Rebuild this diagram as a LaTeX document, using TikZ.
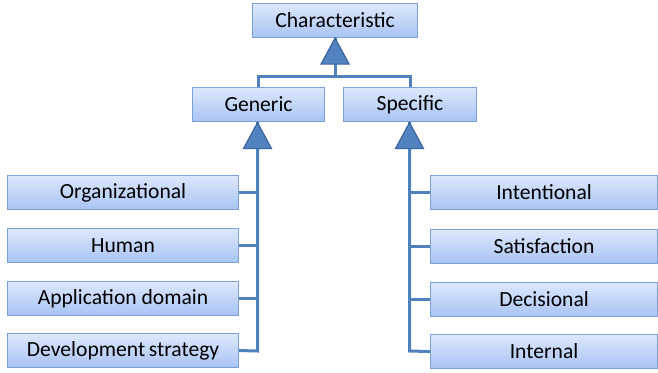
\documentclass[tikz,border=0pt]{standalone}
\usepackage{fontspec}
\setmainfont{Carlito}
\definecolor{boxtop}{HTML}{DDE8FC}
\definecolor{boxbot}{HTML}{A8C3F3}
\definecolor{boxline}{HTML}{7CA1D8}
\definecolor{conn}{HTML}{4F81BD}
\definecolor{trifill}{HTML}{5383BE}
\definecolor{triline}{HTML}{3A659C}
\begin{document}
\begin{tikzpicture}[x=1pt,y=-1pt,
  cbox/.style={draw=boxline, line width=1.1pt, top color=boxtop, bottom color=boxbot,
    minimum height=34pt, inner sep=0pt, font=\fontsize{21.6}{25}\selectfont, anchor=north west},
  conline/.style={draw=conn, line width=3pt},
  tri/.style={fill=trifill, draw=triline, line width=1.2pt, line join=miter}]
\useasboundingbox (0,0) rectangle (658,372);
% nodes
\node[cbox, minimum width=165pt] (ch) at (252,3) {Characteristic};
\node[cbox, minimum width=132pt] (ge) at (192,87) {Generic};
\node[cbox, minimum width=133pt] (sp) at (343,87) {Specific};
\node[cbox, minimum width=231pt] (o) at (7,175) {Organizational};
\node[cbox, minimum width=231pt] (h) at (7,228) {Human};
\node[cbox, minimum width=231pt] (a) at (7,281) {Application domain};
\node[cbox, minimum width=231pt] (d) at (7,333) {Development\,strategy};
\node[cbox, minimum width=227pt] (in) at (430,175) {Intentional};
\node[cbox, minimum width=227pt] (sa) at (430,229) {Satisfaction};
\node[cbox, minimum width=227pt] (de) at (430,282) {Decisional};
\node[cbox, minimum width=227pt] (it) at (430,334) {Internal};
% junction coordinates
\coordinate (chj) at (330,76);
\coordinate (gej) at (257.5,351);
\coordinate (spj) at (409.5,351);
% top tree
\draw[conline] (ge.north) -- (ge.north |- chj) -- (sp.north |- chj) -- (sp.north);
\draw[conline] (ch.south |- chj) -- (ch.south);
% generic tree
\draw[conline] (gej |- ge.south) -- (gej) -- (d.east);
\draw[conline] (o.east) -- (gej |- o.east);
\draw[conline] (h.east) -- (gej |- h.east);
\draw[conline] (a.east) -- (gej |- a.east);
% specific tree
\draw[conline] (spj |- sp.south) -- (spj) -- (it.west);
\draw[conline] (in.west) -- (spj |- in.west);
\draw[conline] (sa.west) -- (spj |- sa.west);
\draw[conline] (de.west) -- (spj |- de.west);
% triangles
\draw[tri] (ch.south) -- ++(14,26) -- ++(-28,0) -- cycle;
\draw[tri] (gej |- ge.south) ++(0,0.5) -- ++(14,26) -- ++(-28,0) -- cycle;
\draw[tri] (spj |- sp.south) ++(0,0.5) -- ++(14,26) -- ++(-28,0) -- cycle;
\end{tikzpicture}
\end{document}
